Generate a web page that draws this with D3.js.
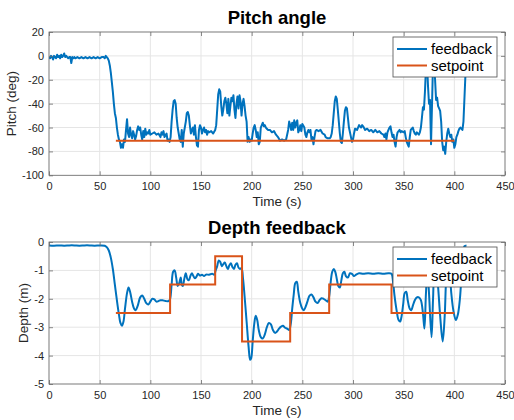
<!DOCTYPE html>
<html><head><meta charset="utf-8">
<script src="https://cdn.jsdelivr.net/npm/d3@7"></script>
<style>body{margin:0;background:#fff}svg{display:block}text{font-family:"Liberation Sans",Arial,sans-serif}</style>
</head><body><svg id="c" width="514" height="420"></svg>
<script>
// ---- data ----
const xTicks = [0,50,100,150,200,250,300,350,400,450];
const pitchTicks = [20,0,-20,-40,-60,-80,-100];
const depthTicks = [0,-1,-2,-3,-4,-5];
const seriesNames = ["feedback","setpoint"];

const pitchTime = [0,1,2,3,4,5,6,7,8,9,10,11,12,13,14,15,16,17,18,19,20,21,22,23,24,25,26,28,30,32,34,36,38,40,42,44,46,48,50,52,54,55,56,57,58,59,60,61,62,63,64,65,66,67,68,69,70,71,72,73,74,75,76,77,78,79,80,81,82,83,84,85,86,87,88,89,90,91,92,93,94,95,96,97,98,99,100,102,104,106,108,110,111,112,113,114,116,117,118,119,120,121,122,123,124,125,126,127,128,129,130,131,132,133,134,135,136,137,138,139,140,141,142,143,144,145,146,147,148,149,150,151,152,153,154,155,156,157,158,160,162,164,165,166,167,168,169,170,171,172,173,174,175,176,177,178,179,180,181,182,183,184,185,186,187,188,189,190,191,192,193,194,195,196,197,198,199,200,201,202,203,204,205,206,207,208,209,210,211,212,213,214,215,216,218,220,222,224,226,228,230,232,234,236,237,238,239,240,241,242,243,244,245,246,247,248,249,250,252,253,254,255,256,257,258,259,260,261,262,263,264,266,268,270,272,273,275,277,278,279,280,281,282,283,284,285,286,287,288,289,290,291,292,293,294,295,296,297,298,299,300,301,302,304,305,306,307,308,309,310,312,314,316,318,320,322,324,326,328,330,331,332,333,334,335,336,337,338,339,340,341,342,343,344,345,346,347,348,350,351,352,353,354,355,356,357,358,359,360,361,362,363,364,365,366,367,368,369,370,371,372,373,374,375,376,377,378,379,380,381,382,383,384,385,386,387,388,389,390,391,392,393,394,395,396,397,398,399,400,401,402,403,404,405,406,407,408,409,410,411,412];
const pitchFeedback = [-1,-2,0,-1,-3,0,-1,-2,1,-1,0,-2,1,-1,0,2,-1,0,-1,-2,-1,-1,-6,-1,-2,-1,-2,-1,-2,-1,-2,-1,-2,-1,-2,-1,-2,-1,-2,-1,-1,-2,0,-1,-2,-4,-8,-14,-22,-30,-40,-48,-52,-60,-66,-70,-72,-77,-74,-77,-70,-72,-62,-53,-65,-68,-60,-66,-69,-63,-66,-70,-67,-62,-59,-62,-60,-66,-70,-63,-68,-61,-66,-64,-65,-62,-66,-65,-64,-66,-65,-68,-64,-66,-63,-68,-65,-71,-70,-72,-68,-55,-45,-38,-37,-40,-52,-60,-65,-70,-72,-62,-76,-65,-60,-55,-48,-47,-50,-58,-65,-62,-60,-66,-58,-68,-75,-76,-62,-58,-60,-65,-62,-60,-64,-62,-66,-63,-64,-63,-65,-62,-58,-45,-32,-28,-30,-42,-50,-45,-38,-35,-40,-48,-36,-50,-42,-35,-38,-33,-45,-52,-40,-34,-44,-33,-38,-50,-40,-36,-42,-50,-55,-72,-68,-72,-70,-71,-65,-60,-58,-62,-68,-64,-74,-72,-60,-58,-56,-59,-58,-60,-61,-62,-62,-64,-63,-66,-68,-71,-70,-71,-70,-62,-55,-58,-62,-56,-62,-54,-60,-56,-54,-64,-62,-58,-63,-57,-60,-66,-68,-64,-62,-64,-62,-70,-68,-74,-68,-63,-62,-63,-62,-65,-66,-68,-69,-69,-68,-65,-58,-48,-38,-34,-36,-45,-55,-65,-72,-73,-65,-55,-46,-43,-44,-52,-60,-64,-68,-72,-70,-65,-61,-62,-60,-58,-59,-60,-58,-59,-62,-61,-63,-62,-64,-62,-64,-63,-65,-66,-68,-65,-70,-64,-62,-60,-59,-64,-68,-66,-72,-76,-68,-64,-63,-62,-64,-63,-64,-63,-68,-72,-74,-76,-68,-62,-61,-60,-63,-65,-66,-64,-65,-66,-64,-60,-52,-43,-45,-30,-10,-5,-25,-40,-37,-74,-40,-5,-8,-20,-37,-35,-42,-44,-46,-55,-72,-79,-76,-82,-72,-65,-61,-65,-68,-66,-72,-70,-77,-74,-68,-66,-63,-61,-60,-61,-62,-55,-35,-15,-2];
const pitchSetTime = [66,400];
const pitchSetpoint = [-71,-71];

const depthTime = [0,5,10,15,20,25,30,35,40,45,50,55,57,59,61,63,65,67,69,70.5,72,73.5,75,77,78.5,80,82,84,85.5,87.5,90,92,94,96,98,100,102,104,106,108,110,112,115,118,119.5,121,122.5,124,125.5,127,128.5,130,131,132,133.5,135,136.5,138,139.5,141,142.5,144,145.5,147,149,151,153,155,158,161,163,164.5,166,167.5,169,170.5,172,173.5,175,176.5,178,179.5,181,182.5,184,185.5,187,188.5,190,191.5,193,195,197,198.5,199.5,201,202.5,204,205.5,207,209,211,213,215,217,219,221,223,225,227,229,231,233,235,237,238.5,240,241.5,243,244.5,246,248,250,251.5,253,255,257,259,261,263,265,267,269,271,273,275,276.5,278,279.5,281,282.5,284,285.5,287,288.5,290,291.5,293,295,297,299,301,303,306,310,315,320,325,330,335,338,339.5,341,343,345,346.5,348,349.5,351,352.5,354,356,357.5,359,361,363,365,367,369,370.5,372,373.5,375,377.5,379,380.5,382,384,386,388.5,390.5,392,393.5,395,397,399,401.5,403.5,405.5,407,408.5,410,412];
const depthFeedback = [-0.12,-0.13,-0.12,-0.13,-0.12,-0.12,-0.13,-0.12,-0.12,-0.13,-0.12,-0.13,-0.18,-0.3,-0.55,-0.95,-1.5,-2.05,-2.55,-2.85,-2.95,-2.8,-2.35,-1.8,-1.6,-1.75,-2.1,-2.35,-2.4,-2.25,-1.95,-1.88,-2.0,-2.15,-2.2,-2.1,-2.0,-2.02,-2.1,-2.08,-2.05,-2.05,-2.08,-2.08,-2.0,-1.5,-1.05,-1.0,-1.25,-1.55,-1.45,-1.25,-1.5,-1.55,-1.3,-1.1,-1.3,-1.35,-1.2,-1.1,-1.2,-1.28,-1.22,-1.12,-1.18,-1.15,-1.2,-1.15,-1.15,-1.12,-1.15,-1.0,-0.85,-0.65,-0.7,-0.85,-0.78,-0.72,-0.85,-0.95,-0.82,-0.75,-0.88,-0.95,-0.8,-0.75,-0.9,-0.95,-0.92,-1.3,-1.9,-2.8,-3.7,-4.15,-4.1,-3.5,-2.9,-2.6,-2.75,-3.1,-3.35,-3.4,-3.25,-3.0,-2.85,-2.9,-3.1,-3.2,-3.15,-3.05,-2.98,-2.95,-3.02,-3.05,-3.1,-2.9,-2.35,-1.85,-1.45,-1.4,-1.75,-2.15,-2.35,-2.4,-2.3,-2.1,-1.9,-1.85,-1.95,-2.1,-2.15,-2.05,-1.98,-2.0,-2.05,-2.1,-1.9,-1.4,-1.05,-0.95,-1.05,-1.3,-1.55,-1.6,-1.35,-1.1,-1.05,-1.2,-1.25,-1.1,-1.12,-1.2,-1.15,-1.1,-1.12,-1.1,-1.12,-1.1,-1.12,-1.1,-1.12,-1.4,-1.9,-2.4,-2.75,-2.8,-2.6,-2.2,-1.8,-1.75,-2.05,-2.35,-2.4,-2.25,-2.05,-1.95,-1.95,-2.05,-2.5,-3.05,-1.8,-1.0,-1.8,-3.35,-2.0,-1.0,-0.9,-1.6,-2.6,-3.5,-2.6,-1.3,-0.9,-1.0,-1.8,-2.4,-2.75,-2.55,-2.0,-1.2,-0.4,-0.15,-0.12];
const depthSetTime = [66,119.5,119.5,164,164,190.5,190.5,238,238,276.5,276.5,338,338,400];
const depthSetpoint = [-2.5,-2.5,-1.5,-1.5,-0.5,-0.5,-3.5,-3.5,-2.5,-2.5,-1.5,-1.5,-2.5,-2.5];

// ---- drawing ----
const svg = d3.select("#c");
svg.append("rect").attr("width",514).attr("height",420).attr("fill","#fff");
const BLUE = "#0072BD", ORANGE = "#D95319", AX = "#262626";

function panel(o) {
  const x = d3.scaleLinear().domain([0,450]).range([49,505]);
  const y = d3.scaleLinear().domain(o.ydom).range([o.bottom,o.top]);
  const g = svg.append("g");
  // grid
  g.selectAll(".gx").data(xTicks).join("line")
    .attr("x1",d=>x(d)).attr("x2",d=>x(d)).attr("y1",o.top).attr("y2",o.bottom)
    .attr("stroke","#e5e5e5").attr("stroke-width",1);
  g.selectAll(".gy").data(o.yticks).join("line")
    .attr("x1",49).attr("x2",505).attr("y1",d=>y(d)).attr("y2",d=>y(d))
    .attr("stroke","#e5e5e5").attr("stroke-width",1);
  // clip
  const cid = "clip"+o.id;
  svg.append("clipPath").attr("id",cid).append("rect")
    .attr("x",49).attr("y",o.top).attr("width",456).attr("height",o.bottom-o.top);
  const lines = g.append("g").attr("clip-path",`url(#${cid})`);
  const fb = d3.zip(o.ft,o.fv);
  const sp = d3.zip(o.st,o.sv);
  lines.append("path").datum(fb)
    .attr("d",d3.line().x(d=>x(d[0])).y(d=>y(d[1])).curve(o.curve))
    .attr("fill","none").attr("stroke",BLUE).attr("stroke-width",2).attr("stroke-linejoin","round");
  lines.append("path").datum(sp)
    .attr("d",d3.line().x(d=>x(d[0])).y(d=>y(d[1])))
    .attr("fill","none").attr("stroke",ORANGE).attr("stroke-width",2);
  // box
  g.append("rect").attr("x",49).attr("y",o.top).attr("width",456).attr("height",o.bottom-o.top)
    .attr("fill","none").attr("stroke","#6b6b6b").attr("stroke-width",0.8);
  // axes
  const xa = g.append("g").attr("transform",`translate(0,${o.bottom})`)
    .call(d3.axisBottom(x).tickValues(xTicks).tickSizeInner(-4).tickSizeOuter(0).tickPadding(7));
  const ya = g.append("g").attr("transform",`translate(49,0)`)
    .call(d3.axisLeft(y).tickValues(o.yticks).tickSizeInner(-4).tickSizeOuter(0).tickPadding(5));
  const xt = g.append("g").attr("transform",`translate(0,${o.top})`)
    .call(d3.axisTop(x).tickValues(xTicks).tickSizeInner(-4).tickSizeOuter(0).tickFormat(""));
  const yr = g.append("g").attr("transform",`translate(505,0)`)
    .call(d3.axisRight(y).tickValues(o.yticks).tickSizeInner(-4).tickSizeOuter(0).tickFormat(""));
  [xa,ya,xt,yr].forEach(a=>{
    a.select(".domain").remove();
    a.selectAll(".tick line").attr("stroke","#6b6b6b").attr("stroke-width",0.8);
    a.selectAll(".tick text").attr("fill",AX).attr("font-size","11px")
      .attr("font-family","Liberation Sans, Arial, sans-serif");
  });
  ya.selectAll(".tick text").text(d=>d3.format("")(d).replace("−","-"));
  // labels
  g.append("text").attr("x",277).attr("y",o.top-8.5).attr("text-anchor","middle")
    .attr("font-size","18.5px").attr("font-weight","bold").attr("fill","#000").text(o.title);
  g.append("text").attr("x",277).attr("y",o.bottom+30.5).attr("text-anchor","middle")
    .attr("font-size","13.5px").attr("fill",AX).text("Time (s)");
  g.append("text").attr("transform",`translate(${o.ylx},${(o.top+o.bottom)/2}) rotate(-90)`)
    .attr("text-anchor","middle").attr("font-size","13.5px").attr("fill",AX).text(o.ylabel);
  // legend
  const lg = g.append("g").attr("transform",`translate(393,${o.top+5})`);
  lg.append("rect").attr("width",104).attr("height",40).attr("fill","#fff")
    .attr("stroke","#4d4d4d").attr("stroke-width",0.8);
  const cols = [BLUE,ORANGE];
  seriesNames.forEach((n,i)=>{
    const by = 17 + i*16.5;
    lg.append("line").attr("x1",4).attr("x2",34).attr("y1",by-5).attr("y2",by-5)
      .attr("stroke",cols[i]).attr("stroke-width",2);
    lg.append("text").attr("x",38).attr("y",by).attr("font-size","15px").attr("fill","#000").text(n);
  });
}

panel({id:"p",top:32,bottom:175.3,ydom:[-100,20],yticks:pitchTicks,ft:pitchTime,fv:pitchFeedback,
  st:pitchSetTime,sv:pitchSetpoint,curve:d3.curveLinear,title:"Pitch angle",ylabel:"Pitch (deg)",ylx:16});
panel({id:"d",top:242,bottom:384,ydom:[-5,0],yticks:depthTicks,ft:depthTime,fv:depthFeedback,
  st:depthSetTime,sv:depthSetpoint,curve:d3.curveCatmullRom.alpha(0.5),title:"Depth feedback",ylabel:"Depth (m)",ylx:28});
</script></body></html>
